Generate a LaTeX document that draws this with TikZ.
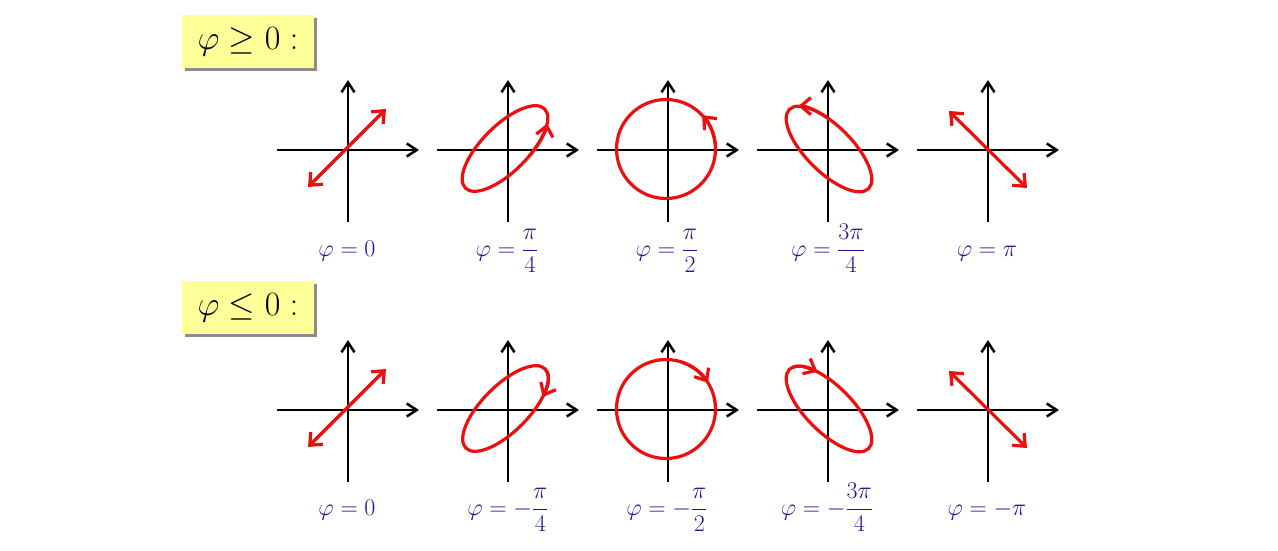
\RequirePackage{fix-cm}
\documentclass[tikz,border=0pt]{standalone}
\usepackage{amsmath}
\usetikzlibrary{arrows.meta,shadows}
\definecolor{lblue}{RGB}{25,25,155}
\definecolor{pred}{RGB}{235,15,15}
\definecolor{lyellow}{RGB}{255,255,153}
\tikzset{
  axis/.style={line width=2.5pt, black, -{Straight Barb[length=10pt,width=13pt]}},
  wave/.style={line width=3.2pt, pred},
  endtip/.style={-{Straight Barb[length=10pt,width=17pt]}},
  bothtips/.style={{Straight Barb[length=10pt,width=17pt]}-{Straight Barb[length=10pt,width=17pt]}},
  lbl/.style={text=lblue, anchor=base, font=\fontsize{24}{28}\selectfont, inner sep=0pt},
  head/.style={fill=lyellow, minimum width=132pt, minimum height=53pt,
    font=\fontsize{34}{40}\selectfont, inner sep=0pt,
    drop shadow={shadow xshift=3pt, shadow yshift=-3pt, fill=black!45, opacity=1}},
  axes/.pic={
    \coordinate (-l) at (-71,0); \coordinate (-r) at (71,0);
    \coordinate (-b) at (0,-72); \coordinate (-t) at (0,70);
    \draw[axis] (-l) -- (-r);
    \draw[axis] (-b) -- (-t);
  }
}
\begin{document}
\begin{tikzpicture}[x=1pt,y=1pt]
\fill[white] (0,0) rectangle (1278,550);
\path[use as bounding box] (0,0) rectangle (1278,550);

% headings
\node[head] (h1) at (248,508.5) {$\varphi \geq 0 :$};
\node[head] (h2) at (248,242.5) {$\varphi \leq 0 :$};

% ---------- top row ----------
\begin{scope}[shift={(348,400)}]
  \pic (a1) {axes};
  \coordinate (p1s) at (-40,-37); \coordinate (p1e) at (38,41);
  \draw[wave,bothtips] (p1s) -- (p1e);
\end{scope}
\begin{scope}[shift={(508,400)}]
  \pic (a2) {axes};
\end{scope}
\begin{scope}[shift={(505,401.5)}, rotate=45]
  \draw[wave] (0,0) ellipse [x radius=56pt, y radius=23pt];
  \draw[wave,endtip] (-78:56pt and 23pt) arc [start angle=-78, end angle=-32, x radius=56pt, y radius=23pt];
\end{scope}
\begin{scope}[shift={(668,400)}]
  \pic (a3) {axes};
\end{scope}
\begin{scope}[shift={(666,401)}]
  \draw[wave] (0,0) circle [radius=49.5pt];
  \draw[wave,endtip] (5:49.5pt) arc [start angle=5, end angle=43, radius=49.5pt];
\end{scope}
\begin{scope}[shift={(828,400)}]
  \pic (a4) {axes};
\end{scope}
\begin{scope}[shift={(829,401)}, rotate=-45]
  \draw[wave] (0,0) ellipse [x radius=56pt, y radius=23pt];
  \draw[wave,endtip] (112:56pt and 23pt) arc [start angle=112, end angle=158, x radius=56pt, y radius=23pt];
\end{scope}
\begin{scope}[shift={(988,400)}]
  \pic (a5) {axes};
  \coordinate (p5s) at (39,-38); \coordinate (p5e) at (-39,39);
  \draw[wave,bothtips] (p5s) -- (p5e);
\end{scope}

% ---------- bottom row ----------
\begin{scope}[shift={(348,140)}]
  \pic (b1) {axes};
  \coordinate (q1s) at (-40,-37); \coordinate (q1e) at (38,41);
  \draw[wave,bothtips] (q1s) -- (q1e);
\end{scope}
\begin{scope}[shift={(508,140)}]
  \pic (b2) {axes};
\end{scope}
\begin{scope}[shift={(505.5,141.5)}, rotate=45]
  \draw[wave] (0,0) ellipse [x radius=56pt, y radius=23pt];
  \draw[wave,endtip] (-5:56pt and 23pt) arc [start angle=-5, end angle=-52, x radius=56pt, y radius=23pt];
\end{scope}
\begin{scope}[shift={(668,140)}]
  \pic (b3) {axes};
\end{scope}
\begin{scope}[shift={(666,141)}]
  \draw[wave] (0,0) circle [radius=49.5pt];
  \draw[wave,endtip] (72:49.5pt) arc [start angle=72, end angle=32, radius=49.5pt];
\end{scope}
\begin{scope}[shift={(828,140)}]
  \pic (b4) {axes};
\end{scope}
\begin{scope}[shift={(829,141)}, rotate=-45]
  \draw[wave] (0,0) ellipse [x radius=56pt, y radius=23pt];
  \draw[wave,endtip] (172:56pt and 23pt) arc [start angle=172, end angle=128, x radius=56pt, y radius=23pt];
\end{scope}
\begin{scope}[shift={(988,140)}]
  \pic (b5) {axes};
  \coordinate (q5s) at (39,-38); \coordinate (q5e) at (-39,39);
  \draw[wave,bothtips] (q5s) -- (q5e);
\end{scope}

% ---------- labels ----------
\node[lbl] (l1) at (347,294) {$\varphi = 0$};
\node[lbl] (l2) at (507,294) {$\varphi = \dfrac{\pi}{4}$};
\node[lbl] (l3) at (667,294) {$\varphi = \dfrac{\pi}{2}$};
\node[lbl] (l4) at (828,294) {$\varphi = \dfrac{3\pi}{4}$};
\node[lbl] (l5) at (987,294) {$\varphi = \pi$};

\node[lbl] (m1) at (347,35) {$\varphi = 0$};
\node[lbl] (m2) at (508,35) {$\varphi = -\dfrac{\pi}{4}$};
\node[lbl] (m3) at (667,35) {$\varphi = -\dfrac{\pi}{2}$};
\node[lbl] (m4) at (827,35) {$\varphi = -\dfrac{3\pi}{4}$};
\node[lbl] (m5) at (987,35) {$\varphi = -\pi$};
\end{tikzpicture}
\end{document}
